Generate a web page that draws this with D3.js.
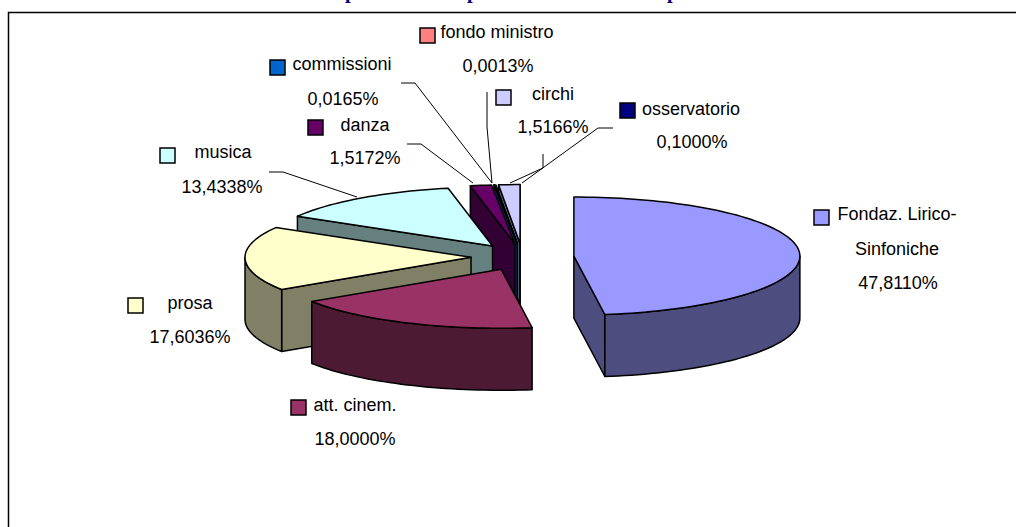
<!DOCTYPE html>
<html>
<head>
<meta charset="utf-8">
<script src="https://d3js.org/d3.v7.min.js"></script>
<style>
  html, body { margin: 0; padding: 0; background: #fff; overflow: hidden; }
  svg { display: block; }
  text { font-family: "Liberation Sans", Arial, sans-serif; font-size: 18px; fill: #000; }
  text.cutoff { font-family: "Liberation Serif", serif; font-weight: bold; font-size: 20px; fill: #000080; }
</style>
</head>
<body>
<script>
// Chart data, clockwise from 12 o'clock
var categories = ["Fondaz. Lirico-Sinfoniche", "att. cinem.", "prosa", "musica", "danza", "commissioni", "fondo ministro", "osservatorio", "circhi"];
var shares = [47.8110, 18.0000, 17.6036, 13.4338, 1.5172, 0.0165, 0.0013, 0.1000, 1.5166];
var colors = ["#9999ff", "#993366", "#ffffcc", "#ccffff", "#660066", "#0066cc", "#ff8080", "#000080", "#ccccff"];
var percentLabels = ["47,8110%", "18,0000%", "17,6036%", "13,4338%", "1,5172%", "0,0165%", "0,0013%", "0,1000%", "1,5166%"];

// The title is cropped off the top of the picture, only these descenders are left
var titleDescenders = ["p", "p", "p"];
var titleX = [345, 467, 667];

var svgWidth = 1016;
var svgHeight = 527;

// Pie geometry
var cx = 522.5, cy = 257;
var rx = 226, ry = 59;
var depth = 62;
var explode = 51.5;

// Where each label sits: legend key, name line, percent line
var labelPos = [
  { key: [821, 217], name: [897, 220], pct: [898, 289], nameLines: ["Fondaz. Lirico-", "Sinfoniche"] },
  { key: [298, 407], name: [355, 411], pct: [355, 445] },
  { key: [135, 305], name: [190, 309], pct: [190, 343] },
  { key: [167, 155], name: [223, 158], pct: [222, 193] },
  { key: [315, 127], name: [365, 131], pct: [365, 164] },
  { key: [277, 67], name: [342, 70], pct: [343, 105] },
  { key: [427, 35], name: [497, 38], pct: [498, 72] },
  { key: [627, 110], name: [691, 115], pct: [692, 148] },
  { key: [503, 97], name: [553, 100], pct: [553, 133] }
];

// Leader lines: short shelf, then the long run down to the slice
var leaders = [
  { pts: [[269, 172], [283, 172], [357, 197]] },
  { pts: [[407, 144], [421, 144], [473, 183]] },
  { pts: [[401, 83], [415, 83], [492, 183]] },
  { pts: [[487, 92], [487, 127], [492, 183]] },
  { pts: [[543, 154], [543, 168], [510, 183]] },
  { pts: [[613, 128], [598, 128], [522, 183]] }
];

var svg = d3.select("body")
  .append("svg")
  .attr("width", svgWidth)
  .attr("height", svgHeight);

titleDescenders.forEach(function(t, i) {
  svg.append("text")
    .attr("class", "cutoff")
    .attr("x", titleX[i])
    .attr("y", -2)
    .text(t);
});

// Outer frame, runs off the right and the bottom of the picture
svg.append("rect")
  .attr("x", 8.5)
  .attr("y", 12.5)
  .attr("width", 1030)
  .attr("height", 530)
  .attr("fill", "#fff")
  .attr("stroke", "#000")
  .attr("stroke-width", 1.5);

var pie = d3.pie().sort(null).value(d => d).startAngle(0).endAngle(2 * Math.PI);
var slices = pie(shares);

// project an angle (0 = up, clockwise) onto the tilted rim, h pixels down
function project(c, angle, h) {
  return [c[0] + rx * Math.sin(angle), c[1] - ry * Math.cos(angle) + h];
}

function centerOf(s) {
  var mid = (s.startAngle + s.endAngle) / 2;
  return [cx + explode * Math.sin(mid), cy - explode * (ry / rx) * Math.cos(mid)];
}

function arcPoints(c, a0, a1, h) {
  var steps = Math.max(2, Math.ceil((a1 - a0) / 0.03));
  return d3.range(steps + 1).map(i => project(c, a0 + (a1 - a0) * i / steps, h));
}

var line = d3.line();

function drawFace(points, fill) {
  svg.append("path")
    .attr("d", line(points) + "Z")
    .attr("fill", fill)
    .attr("stroke", "#000")
    .attr("stroke-width", 1.5)
    .attr("stroke-linejoin", "round");
}

// Back to front: small slices first, the big front ones last
var drawOrder = [8, 7, 6, 5, 4, 3, 2, 1, 0];

drawOrder.forEach(function(i) {
  var s = slices[i];
  var c = centerOf(s);
  var base = d3.rgb(colors[i]);
  var wall = d3.rgb(base.r / 2, base.g / 2, base.b / 2).formatHex();

  // radial wall on the start side, only when it faces the viewer
  if (Math.sin(s.startAngle) < 0) {
    var p = project(c, s.startAngle, 0);
    drawFace([c, p, [p[0], p[1] + depth], [c[0], c[1] + depth]], wall);
  }
  // radial wall on the end side
  if (Math.sin(s.endAngle) > 0) {
    var q = project(c, s.endAngle, 0);
    drawFace([c, q, [q[0], q[1] + depth], [c[0], c[1] + depth]], wall);
  }
  // curved wall, only the front half shows
  var a0 = Math.max(s.startAngle, Math.PI / 2);
  var a1 = Math.min(s.endAngle, 3 * Math.PI / 2);
  if (a1 > a0) {
    drawFace(arcPoints(c, a0, a1, 0).concat(arcPoints(c, a0, a1, depth).reverse()), wall);
  }
  // top face
  drawFace([c].concat(arcPoints(c, s.startAngle, s.endAngle, 0)), colors[i]);
});

leaders.forEach(function(l) {
  svg.append("path")
    .attr("d", line(l.pts))
    .attr("fill", "none")
    .attr("stroke", "#000")
    .attr("stroke-width", 1);
});

// Labels with their legend keys
categories.forEach(function(name, i) {
  var pos = labelPos[i];
  svg.append("rect")
    .attr("x", pos.key[0] - 7)
    .attr("y", pos.key[1] - 7)
    .attr("width", 15)
    .attr("height", 15)
    .attr("fill", colors[i])
    .attr("stroke", "#000")
    .attr("stroke-width", 1.5);

  var lines = pos.nameLines || [name];
  lines.forEach(function(t, j) {
    svg.append("text")
      .attr("x", pos.name[0])
      .attr("y", pos.name[1] + j * 35)
      .attr("text-anchor", "middle")
      .text(t);
  });

  svg.append("text")
    .attr("x", pos.pct[0])
    .attr("y", pos.pct[1])
    .attr("text-anchor", "middle")
    .text(percentLabels[i]);
});
</script>
</body>
</html>
